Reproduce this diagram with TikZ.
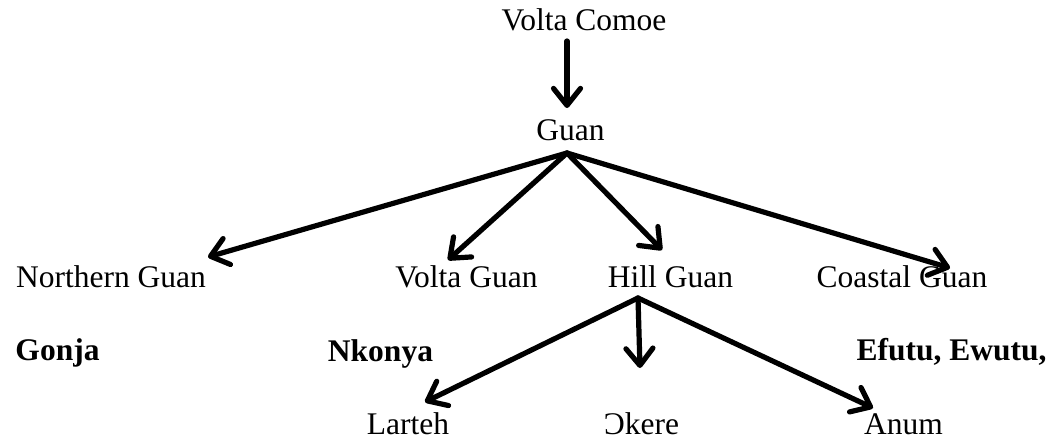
\documentclass[tikz,border=0pt]{standalone}
\usepackage{fontspec}
\setmainfont{Liberation Serif}
\usetikzlibrary{arrows.meta}
\begin{document}
\begin{tikzpicture}[x=1pt,y=-1pt,
  lbl/.style={anchor=base,inner sep=0pt,font=\fontsize{31.5}{36}\selectfont},
  blbl/.style={lbl,font=\fontsize{31.5}{36}\selectfont\bfseries},
  arr/.style={line width=5.2pt,line cap=round,line join=round,
    -{Straight Barb[length=17pt,width=27pt,line cap=round,line join=round]}}]
\useasboundingbox (0,0) rectangle (1063,442);
% nodes
\node[lbl] (vc) at (584,30) {Volta Comoe};
\node[lbl] (guan) at (570.5,140) {Guan};
\node[lbl] (ng) at (111,287) {Northern Guan};
\node[lbl] (vg) at (466.5,287) {Volta Guan};
\node[lbl] (hg) at (670.5,287) {Hill Guan};
\node[lbl] (cg) at (902,287) {Coastal Guan};
\node[blbl] (gonja) at (57.5,360) {Gonja};
\node[blbl] (nkonya) at (380.5,361) {Nkonya};
\node[blbl] (efutu) at (951.5,360) {Efutu, Ewutu,};
\node[lbl] (larteh) at (408,434) {Larteh};
\node[lbl] (okere) at (641.5,434) {Ɔkere};
\node[lbl] (anum) at (903.5,434) {Anum};
% connector end points
\coordinate (vcfoot) at (567,41);
\coordinate (guanhead) at (567,108);
\coordinate (guanfoot) at (567,153);
\coordinate (ngtip) at (208,257);
\coordinate (vgtip) at (448,260);
\coordinate (hgtip) at (662,250);
\coordinate (cgtip) at (950,268);
\coordinate (hgfoot) at (638,298);
\coordinate (lartehtip) at (425,402);
\coordinate (okeretip) at (640,368);
\coordinate (anumtip) at (873,408);
% connectors
\draw[arr] (vcfoot) -- (guanhead);
\draw[arr] (guanfoot) -- (ngtip);
\draw[arr] (guanfoot) -- (vgtip);
\draw[arr] (guanfoot) -- (hgtip);
\draw[arr] (guanfoot) -- (cgtip);
\draw[arr] (hgfoot) -- (lartehtip);
\draw[arr] (hgfoot) -- (okeretip);
\draw[arr] (hgfoot) -- (anumtip);
\end{tikzpicture}
\end{document}
